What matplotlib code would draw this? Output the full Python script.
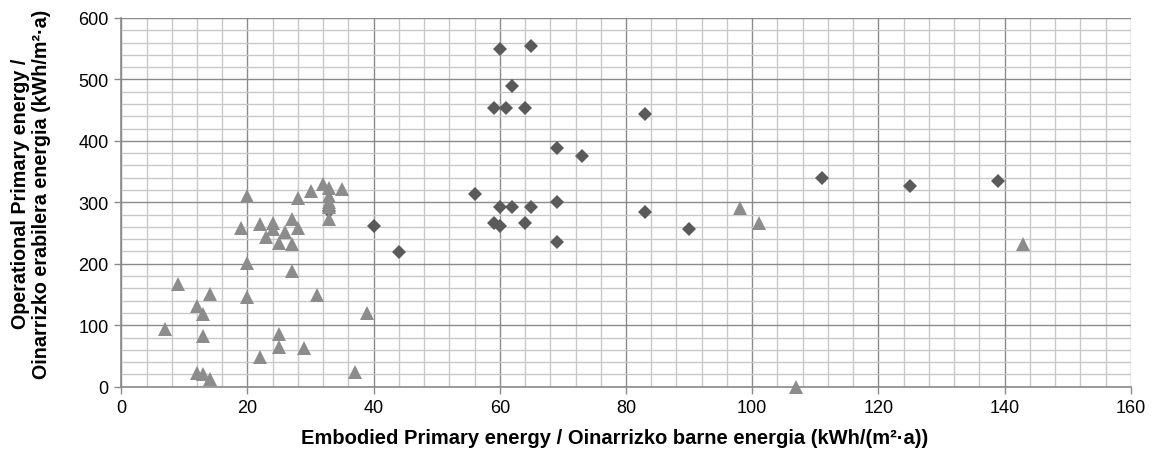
import numpy as np
import matplotlib
matplotlib.use('Agg')
import matplotlib.pyplot as plt
from matplotlib.ticker import MultipleLocator

plt.rcParams['font.family'] = ['Liberation Sans', 'DejaVu Sans']

# ---------------------------------------------------------------
# Data
# ---------------------------------------------------------------
# series 1 -- dark diamonds
dia_x = [40, 44, 33, 56, 59, 60, 61, 62, 64, 65, 59, 60, 60, 62, 64, 65,
         69, 73, 69, 69, 83, 83, 90, 111, 125, 139]
dia_y = [261, 219, 286, 313, 454, 550, 454, 489, 454, 554, 266, 292, 261, 292, 266, 292,
         389, 376, 300, 236, 444, 285, 257, 340, 326, 334]

# series 2 -- light triangles
tri_x = [20, 19, 22, 24, 27, 28, 24, 23, 26, 25, 27, 28, 30, 32, 33, 35,
         33, 33, 33, 33, 20, 27, 9, 14, 20, 31, 12, 13, 39, 7, 13, 25,
         25, 29, 22, 12, 13, 14, 37, 107, 98, 101, 143]
tri_y = [310, 258, 264, 267, 273, 259, 256, 243, 251, 234, 232, 307, 319, 330, 324, 322,
         311, 300, 292, 273, 201, 189, 167, 151, 146, 150, 132, 118, 120, 94, 83, 86,
         64, 63, 48, 23, 21, 12, 24, 0, 291, 267, 232]

DIA_COLOR = '#5A5A5A'
TRI_COLOR = '#8C8C8C'
MAJOR_GRID = '#8A8A8A'
MINOR_GRID = '#C8C8C8'

fig = plt.figure(figsize=(11.55, 4.52), dpi=100)
ax = fig.add_axes([0.105, 0.1423, 0.874, 0.8157])

ax.plot(dia_x, dia_y, linestyle='none', marker='D', markersize=7.6,
        color=DIA_COLOR, markeredgewidth=0, zorder=3, clip_on=False)
ax.plot(tri_x, tri_y, linestyle='none', marker='^', markersize=10.5,
        color=TRI_COLOR, markeredgewidth=0, zorder=4, clip_on=False)

ax.set_xlim(0, 160)
ax.set_ylim(0, 600)
ax.xaxis.set_major_locator(MultipleLocator(20))
ax.xaxis.set_minor_locator(MultipleLocator(4))
ax.yaxis.set_major_locator(MultipleLocator(100))
ax.yaxis.set_minor_locator(MultipleLocator(20))

ax.grid(which='minor', color=MINOR_GRID, linewidth=1.0, zorder=0)
ax.grid(which='major', color=MAJOR_GRID, linewidth=1.0, zorder=1)
ax.set_axisbelow(True)

for s in ('top', 'right'):
    ax.spines[s].set_visible(False)
for s in ('left', 'bottom'):
    ax.spines[s].set_color(MAJOR_GRID)
    ax.spines[s].set_linewidth(1.2)

ax.tick_params(which='major', direction='out', length=5, width=1,
               color=MAJOR_GRID, labelsize=13, pad=4)
ax.tick_params(which='minor', length=0)

ax.set_xlabel('Embodied Primary energy / Oinarrizko barne energia (kWh/(m²·a))',
              fontsize=14.5, fontweight='bold')
ax.xaxis.set_label_coords(0.489, -0.112)
ax.set_ylabel('Operational Primary energy /\nOinarrizko erabilera energia (kWh/m²·a)',
              fontsize=14.2, fontweight='bold', linespacing=1.1)
ax.yaxis.set_label_coords(-0.070, 0.525)

fig.canvas.draw()
# top gridline is drawn light in the reference
ax.yaxis.get_gridlines()[-1].set_color(MINOR_GRID)

plt.savefig('out.png', dpi=100)
